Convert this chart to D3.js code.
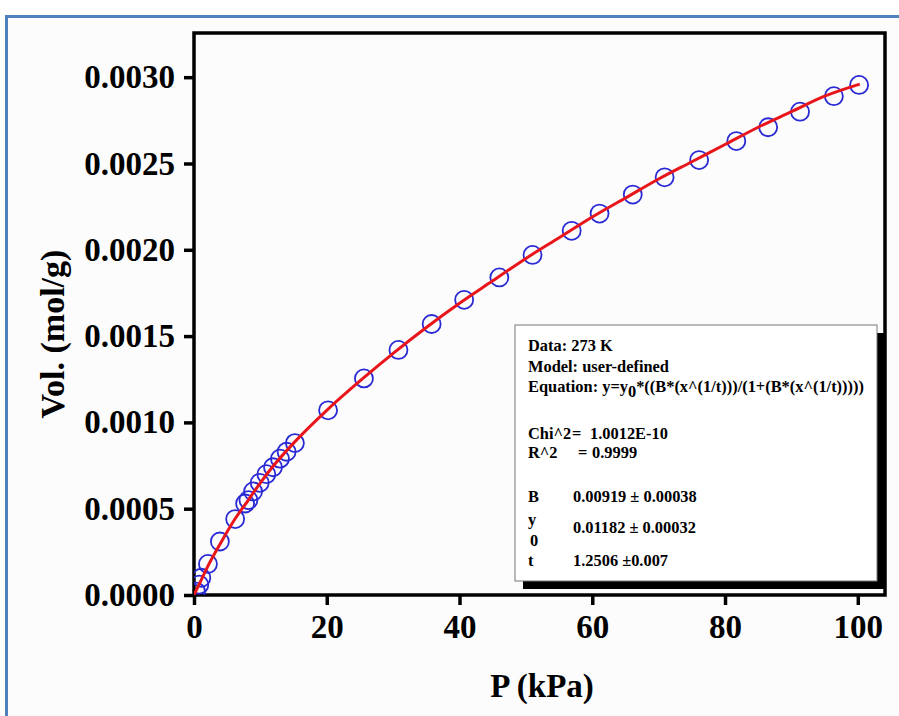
<!DOCTYPE html>
<html lang="en">
<script src="https://d3js.org/d3.v7.min.js"></script>
<style>
    body {margin: 0; background: #fff;}
    text {font-family: "Liberation Serif", "Times New Roman", serif; font-weight: bold; fill: #000;}
    .tick line {stroke: #000; stroke-width: 3.5;}
    .tick text {font-size: 33px;}
    .stat text {font-size: 16.4px;}
</style>
<body>
    <svg width="899" height="716"></svg>
</body>
<script>
    // measured points, 273 K
    var pressure = [0.3, 0.8, 1.1, 2.1, 3.9, 6.2, 7.7, 8.2, 8.9, 9.9, 10.9, 11.9, 12.95, 13.95, 15.2,
        20.2, 25.6, 30.8, 35.8, 40.7, 46.0, 51.0, 56.9, 61.1, 66.1, 70.9, 76.1, 81.7, 86.5, 91.3, 96.4, 100.2];
    var uptake = [0.00002, 0.00006, 0.0001, 0.00018, 0.00031, 0.00044, 0.00053, 0.00055, 0.0006, 0.00065, 0.0007, 0.00074, 0.00079, 0.00083, 0.00088,
        0.00107, 0.001255, 0.00142, 0.00157, 0.00171, 0.00184, 0.00197, 0.00211, 0.00221, 0.00232, 0.00242, 0.00252, 0.00263, 0.00271, 0.0028, 0.00289, 0.002955];

    // fitted curve
    var fitP = [0, 0.5, 1, 2, 4, 6, 8, 10, 12, 15, 20, 25, 30, 35, 40, 45, 50, 55, 60, 65, 70, 75, 80, 85, 90, 95, 100.3];
    var fitV = [0, 0.00004, 0.00008, 0.00016, 0.0003, 0.00043, 0.00054, 0.00065, 0.00075, 0.00088, 0.00107, 0.00124, 0.0014, 0.00155,
        0.00169, 0.00182, 0.00195, 0.00207, 0.00219, 0.0023, 0.00241, 0.00251, 0.00261, 0.00271, 0.0028, 0.00289, 0.00296];

    var xTicks = [0, 20, 40, 60, 80, 100];
    var yTicks = [0, 0.0005, 0.001, 0.0015, 0.002, 0.0025, 0.003];

    var svg = d3.select("svg");

    // page frame
    svg.append("rect").attr("x", 6).attr("y", 16).attr("width", 900).attr("height", 710).attr("fill", "#fcfcfc");
    svg.append("line").attr("x1", 5).attr("x2", 899).attr("y1", 16.5).attr("y2", 16.5).attr("stroke", "#4f81bd").attr("stroke-width", 3);
    svg.append("line").attr("x1", 6.5).attr("x2", 6.5).attr("y1", 15).attr("y2", 716).attr("stroke", "#4f81bd").attr("stroke-width", 3);

    var plotL = 194, plotR = 885, plotT = 33, plotB = 595;
    var x = d3.scaleLinear().domain([0, 104.1]).range([plotL, plotR]);
    var y = d3.scaleLinear().domain([0, 0.003256]).range([plotB, plotT]);

    svg.append("defs").append("clipPath").attr("id", "plot")
        .append("rect").attr("x", plotL).attr("y", plotT).attr("width", plotR - plotL).attr("height", plotB - plotT);

    var xAxis = svg.append("g").attr("transform", "translate(0," + plotB + ")")
        .call(d3.axisBottom(x).tickValues(xTicks).tickSize(10).tickPadding(10).tickFormat(d3.format("d")));
    var yAxis = svg.append("g").attr("transform", "translate(" + plotL + ",0)")
        .call(d3.axisLeft(y).tickValues(yTicks).tickSize(10).tickPadding(9).tickFormat(d3.format(".4f")));
    xAxis.select(".domain").remove();
    yAxis.select(".domain").remove();
    xAxis.attr("font-size", null).attr("font-family", null);
    yAxis.attr("font-size", null).attr("font-family", null);

    svg.append("rect").attr("x", plotL).attr("y", plotT).attr("width", plotR - plotL).attr("height", plotB - plotT)
        .attr("fill", "none").attr("stroke", "#000").attr("stroke-width", 3.5);

    var plot = svg.append("g").attr("clip-path", "url(#plot)");

    plot.selectAll("circle").data(pressure).enter().append("circle")
        .attr("cx", function(d){return x(d);})
        .attr("cy", function(d, i){return y(uptake[i]);})
        .attr("r", 9)
        .attr("fill", "none").attr("stroke", "#2a2ad4").attr("stroke-width", 1.8);

    var line = d3.line().x(function(d){return x(d);}).y(function(d, i){return y(fitV[i]);}).curve(d3.curveMonotoneX);
    plot.append("path").datum(fitP).attr("d", line)
        .attr("fill", "none").attr("stroke", "#e8161b").attr("stroke-width", 3);

    // axis titles
    svg.append("text").attr("x", 542).attr("y", 697).attr("text-anchor", "middle").attr("font-size", 33).text("P (kPa)");
    svg.append("text").attr("transform", "translate(64,334) rotate(-90)").attr("text-anchor", "middle").attr("font-size", 34).text("Vol. (mol/g)");

    // fit statistics box
    var stat = svg.append("g").attr("class", "stat");
    stat.append("rect").attr("x", 523).attr("y", 333).attr("width", 362).attr("height", 256).attr("fill", "#000");
    stat.append("rect").attr("x", 515).attr("y", 325).attr("width", 362).attr("height", 256)
        .attr("fill", "#fff").attr("stroke", "#777").attr("stroke-width", 1);

    stat.append("text").attr("x", 528).attr("y", 351).text("Data: 273 K");
    stat.append("text").attr("x", 528).attr("y", 372).text("Model: user-defined");
    var eq = stat.append("text").attr("x", 528).attr("y", 392);
    eq.append("tspan").text("Equation: y=y");
    eq.append("tspan").attr("dy", 5).text("0");
    eq.append("tspan").attr("dy", -5).text("*((B*(x^(1/t)))/(1+(B*(x^(1/t)))))");

    stat.append("text").attr("x", 528).attr("y", 439).text("Chi^2");
    stat.append("text").attr("x", 572).attr("y", 439).text("=");
    stat.append("text").attr("x", 590).attr("y", 439).text("1.0012E-10");
    stat.append("text").attr("x", 528).attr("y", 458).text("R^2");
    stat.append("text").attr("x", 578).attr("y", 458).text("=");
    stat.append("text").attr("x", 592).attr("y", 458).text("0.9999");

    stat.append("text").attr("x", 528).attr("y", 502).text("B");
    stat.append("text").attr("x", 573).attr("y", 502).text("0.00919 \u00b1 0.00038");
    stat.append("text").attr("x", 528).attr("y", 525).text("y");
    stat.append("text").attr("x", 530).attr("y", 546).attr("font-size", 15).text("0");
    stat.append("text").attr("x", 573).attr("y", 533).text("0.01182 \u00b1 0.00032");
    stat.append("text").attr("x", 528).attr("y", 566).text("t");
    stat.append("text").attr("x", 573).attr("y", 566).text("1.2506 \u00b10.007");
</script>
</html>
